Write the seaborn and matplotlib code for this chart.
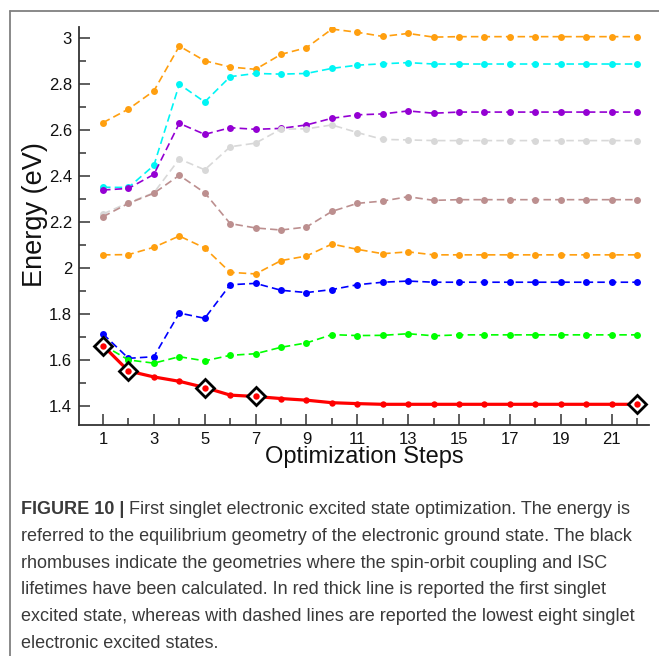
import matplotlib
matplotlib.use("Agg")
import matplotlib.pyplot as plt
import numpy as np
import pandas as pd
import seaborn as sns
from matplotlib.ticker import MultipleLocator, FormatStrFormatter
from matplotlib.lines import Line2D

steps = list(range(1, 23))

s_orange_top = [2.632, 2.691, 2.770, 2.965, 2.901, 2.874, 2.864, 2.929, 2.958, 3.039, 3.025,
                3.007, 3.020, 3.004, 3.006, 3.006, 3.006, 3.006, 3.006, 3.006, 3.006, 3.006]
s_cyan = [2.351, 2.350, 2.446, 2.799, 2.722, 2.832, 2.846, 2.843, 2.846, 2.868, 2.882,
          2.888, 2.893, 2.887, 2.887, 2.887, 2.887, 2.887, 2.887, 2.887, 2.887, 2.887]
s_purple = [2.339, 2.346, 2.407, 2.629, 2.581, 2.610, 2.603, 2.607, 2.622, 2.651, 2.666,
            2.670, 2.683, 2.673, 2.678, 2.678, 2.678, 2.678, 2.678, 2.678, 2.678, 2.678]
s_gray = [2.235, 2.284, 2.327, 2.474, 2.427, 2.527, 2.543, 2.604, 2.605, 2.622, 2.589,
          2.559, 2.557, 2.554, 2.554, 2.554, 2.554, 2.554, 2.554, 2.554, 2.554, 2.554]
s_brown = [2.223, 2.281, 2.325, 2.403, 2.327, 2.193, 2.174, 2.165, 2.178, 2.246, 2.281,
           2.291, 2.310, 2.294, 2.297, 2.297, 2.297, 2.297, 2.297, 2.297, 2.297, 2.297]
s_orange_low = [2.057, 2.058, 2.090, 2.139, 2.087, 1.981, 1.974, 2.032, 2.052, 2.104, 2.081,
                2.062, 2.070, 2.057, 2.057, 2.057, 2.057, 2.057, 2.057, 2.057, 2.057, 2.057]
s_blue = [1.713, 1.607, 1.614, 1.804, 1.781, 1.927, 1.933, 1.903, 1.893, 1.906, 1.927,
          1.938, 1.943, 1.938, 1.938, 1.938, 1.938, 1.938, 1.938, 1.938, 1.938, 1.938]
s_green = [1.665, 1.600, 1.586, 1.614, 1.596, 1.620, 1.627, 1.655, 1.674, 1.710, 1.706,
           1.707, 1.714, 1.705, 1.709, 1.709, 1.709, 1.709, 1.709, 1.709, 1.709, 1.709]
s_red = [1.662, 1.552, 1.526, 1.507, 1.480, 1.447, 1.441, 1.432, 1.425, 1.414, 1.410,
         1.407, 1.407, 1.407, 1.407, 1.407, 1.407, 1.407, 1.407, 1.407, 1.407, 1.407]

# steps where spin-orbit coupling was computed (black rhombuses)
diamond_steps = [1, 2, 5, 7, 22]

dashed = [
    (s_orange_top, "#ff9f0f"),
    (s_cyan, "#00f5f5"),
    (s_purple, "#9400d3"),
    (s_gray, "#d8d8d8"),
    (s_brown, "#bc8f8f"),
    (s_orange_low, "#ff9f0f"),
    (s_blue, "#0000ff"),
    (s_green, "#00ff00"),
]

caption_bold = "FIGURE 10 |"
caption_lines = [
    " First singlet electronic excited state optimization. The energy is",
    "referred to the equilibrium geometry of the electronic ground state. The black",
    "rhombuses indicate the geometries where the spin-orbit coupling and ISC",
    "lifetimes have been calculated. In red thick line is reported the first singlet",
    "excited state, whereas with dashed lines are reported the lowest eight singlet",
    "electronic excited states.",
]

sns.set_style("white")
plt.rcParams["font.family"] = ["Liberation Sans", "DejaVu Sans"]

W, H = 659, 656
fig = plt.figure(figsize=(W / 100, H / 100), dpi=100)
ax = fig.add_axes([79 / W, 1 - 425 / H, (649 - 79) / W, (425 - 27) / H])

for vals, col in dashed:
    sns.lineplot(x=steps, y=vals, ax=ax, color=col, linewidth=1.2,
                 linestyle=(0, (4.5, 2.5)), marker="o", markersize=5,
                 markeredgewidth=0, zorder=2)

sns.lineplot(x=steps, y=s_red, ax=ax, color="#ff0000", linewidth=2.3,
             marker="o", markersize=4.6, markeredgewidth=0, zorder=3)

dmd = pd.DataFrame({"step": steps, "E": s_red})
dmd = dmd[dmd["step"].isin(diamond_steps)]
ax.plot(dmd["step"], dmd["E"], linestyle="none", marker="D", markersize=9.5,
        markerfacecolor="white", markeredgecolor="black", markeredgewidth=2, zorder=4)
ax.plot(dmd["step"], dmd["E"], linestyle="none", marker="o", markersize=4.6,
        markerfacecolor="#ff0000", markeredgewidth=0, zorder=5)

ax.set_xlim(0.055, 22.47)
ax.set_ylim(1.317, 3.048)
ax.set_xticks(range(1, 22, 2))
ax.xaxis.set_minor_locator(MultipleLocator(1))
ax.yaxis.set_major_locator(MultipleLocator(0.2))
ax.yaxis.set_minor_locator(MultipleLocator(0.1))
ax.yaxis.set_major_formatter(FormatStrFormatter("%g"))
ax.tick_params(axis="both", which="major", direction="in", length=8, width=1.1,
               color="#333333", labelsize=12, labelcolor="#111111", pad=5)
ax.tick_params(axis="both", which="minor", direction="in", length=4.8, width=1.1,
               color="#333333")
ax.tick_params(axis="y", which="both", left=True)
ax.tick_params(axis="x", which="both", bottom=True)
for side in ["top", "right"]:
    ax.spines[side].set_visible(False)
for side in ["left", "bottom"]:
    ax.spines[side].set_color("#333333")
    ax.spines[side].set_linewidth(1.3)

ax.set_xlabel("Optimization Steps", fontsize=17, color="#111111", labelpad=-1)
ax.set_ylabel("Energy (eV)", fontsize=19.5, color="#111111")
ax.yaxis.set_label_coords(-0.077, 0.528)
ax.yaxis.label.set_verticalalignment("center")

# surrounding frame (left and top edges visible)
fig.add_artist(Line2D([9.5 / W, 9.5 / W], [0, 1 - 10.5 / H], color="#808080", linewidth=1.3))
fig.add_artist(Line2D([9.5 / W, 1], [1 - 10.5 / H, 1 - 10.5 / H], color="#808080", linewidth=1.3))

# caption
line_y = [510, 536.7, 563.3, 590, 616.7, 643.3]
cap_size = 13
cap_color = "#3a3a3a"
tb = fig.text(21 / W, 1 - line_y[0] / H, caption_bold, fontsize=cap_size,
              fontweight="bold", color=cap_color, va="center", ha="left")
fig.canvas.draw()
bb = tb.get_window_extent(renderer=fig.canvas.get_renderer())
fig.text(bb.x1 / W, 1 - line_y[0] / H, caption_lines[0], fontsize=cap_size,
         color=cap_color, va="center", ha="left")
for y, txt in zip(line_y[1:], caption_lines[1:]):
    fig.text(21 / W, 1 - y / H, txt, fontsize=cap_size, color=cap_color,
             va="center", ha="left")

fig.savefig("out.png", dpi=100)
